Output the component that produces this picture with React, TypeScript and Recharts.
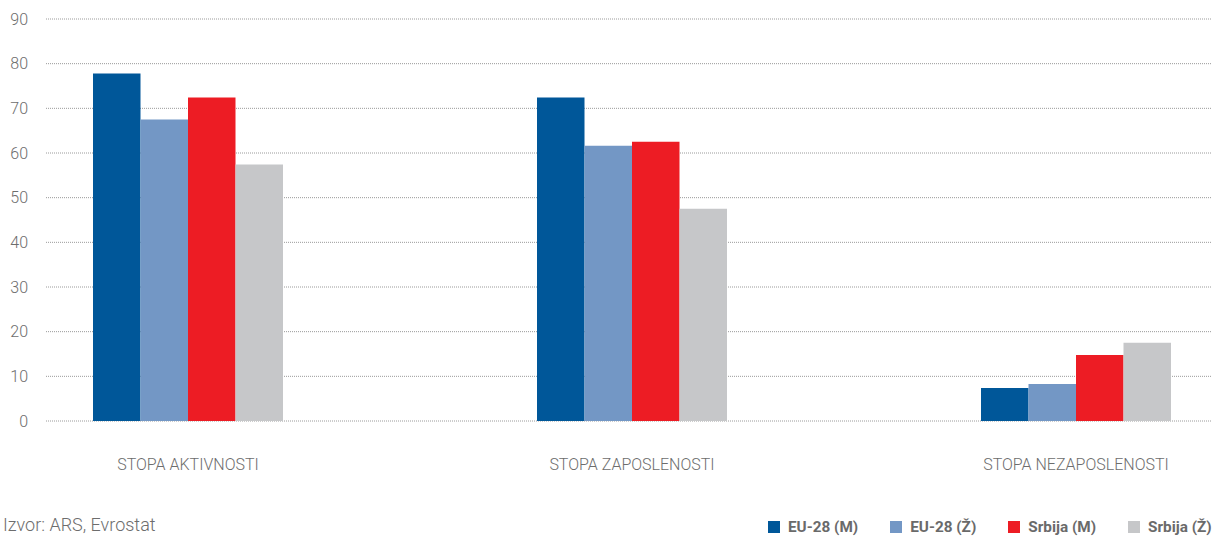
import { BarChart, Bar, XAxis, YAxis, CartesianGrid } from 'recharts';

const categories = ['STOPA AKTIVNOSTI', 'STOPA ZAPOSLENOSTI', 'STOPA NEZAPOSLENOSTI'];
const euMale = [77.8, 72.4, 7.4];
const euFemale = [67.5, 61.6, 8.3];
const srbMale = [72.4, 62.5, 14.8];
const srbFemale = [57.4, 47.5, 17.5];
const yTicks = [0, 10, 20, 30, 40, 50, 60, 70, 80, 90];

const series = [
  { key: 'euM', name: 'EU-28 (M)', color: '#005799' },
  { key: 'euZ', name: 'EU-28 (Ž)', color: '#7397C5' },
  { key: 'srbM', name: 'Srbija (M)', color: '#ED1C24' },
  { key: 'srbZ', name: 'Srbija (Ž)', color: '#C6C7C9' },
];

const data = categories.map((c, i) => ({
  name: c,
  euM: euMale[i],
  euZ: euFemale[i],
  srbM: srbMale[i],
  srbZ: srbFemale[i],
}));

const font = 'Roboto, "Noto Sans", sans-serif';

// legend sits outside the chart so it doesn't eat into the plot height
const LegendRow = () => (
  <div style={{ position: 'absolute', left: 768, top: 518, display: 'flex', alignItems: 'center', whiteSpace: 'nowrap',
    fontFamily: font, fontWeight: 700, fontSize: 15.3, color: '#6a6a6a' }}>
    {series.map((s, i) => (
      <div key={s.key} style={{ display: 'flex', alignItems: 'center', marginLeft: i === 0 ? 0 : 32 }}>
        <span style={{ width: 12, height: 12, background: s.color, display: 'inline-block', marginRight: 8 }} />
        <span>{s.name}</span>
      </div>
    ))}
  </div>
);

export default function App() {
  return (
    <div style={{ position: 'absolute', left: 0, top: 0, width: 1212, height: 536, background: '#fff', overflow: 'hidden' }}>
      <BarChart width={1212} height={536} data={data} barGap={0} barSize={47.5}
        margin={{ top: 19, right: 0, left: 0, bottom: 85 }}>
        <CartesianGrid vertical={false} stroke="#9a9a9a" strokeDasharray="1 1" />
        <XAxis dataKey="name" height={30} axisLine={false} tickLine={false} tickSize={0} tickMargin={38}
          padding={{ left: -80, right: -86 }}
          tick={{ fill: '#6d6d6d', fontSize: 16, fontFamily: font, fontWeight: 300 }} />
        <YAxis width={46} domain={[0, 90]} ticks={yTicks} axisLine={false} tickLine={false} tickSize={0} tickMargin={18}
          tick={{ fill: '#6d6d6d', fontSize: 16, fontFamily: font, fontWeight: 300 }} />
        {series.map(s => (
          <Bar key={s.key} dataKey={s.key} name={s.name} fill={s.color} isAnimationActive={false} />
        ))}
      </BarChart>
      <LegendRow />
      <div style={{ position: 'absolute', left: 3, top: 514, fontFamily: font, fontWeight: 300, fontSize: 18, color: '#6d6d6d' }}>
        Izvor: ARS, Evrostat
      </div>
    </div>
  );
}
